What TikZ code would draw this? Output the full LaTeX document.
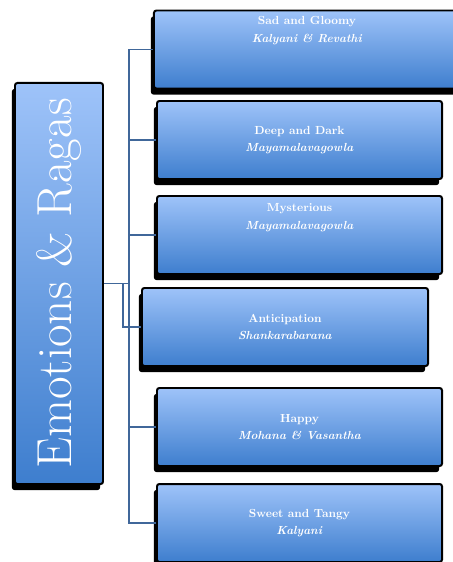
\documentclass[tikz,border=0pt]{standalone}
\usetikzlibrary{positioning, shadows}

\definecolor{skyhi}{HTML}{9EC3F9}
\definecolor{skylo}{HTML}{3E7ECE}
\definecolor{linkblue}{HTML}{40679A}

\begin{document}
\begin{tikzpicture}[
    x=0.03cm, y=-0.03cm,
    box/.style={rectangle, rounded corners=2pt, draw=black, line width=1.7pt,
                top color=skyhi, bottom color=skylo, text=white, inner sep=2pt,
                drop shadow={shadow xshift=-0.09cm, shadow yshift=-0.18cm,
                             fill=black, opacity=1}},
    mood/.style={box, minimum width=8.55cm, minimum height=2.34cm, align=center,
                 font=\fontsize{10}{15}\selectfont\bfseries},
    topic/.style={box, minimum width=2.64cm, minimum height=12.03cm,
                  font=\fontsize{42}{46}\selectfont},
    link/.style={draw=linkblue, line width=1.5pt},
  ]
    \useasboundingbox (0,0) rectangle (453,562);
    % root
    \node[topic] (root) at (59,283.5) {\rotatebox{90}{Emotions \& Ragas}};
    % emotions
    \node[mood, minimum width=9.18cm, text depth=1.2cm] (sad) at (307,49.5)
        {Sad and Gloomy\\\textit{Kalyani \& Revathi}};
    \node[mood] (deep) at (299.5,140) {Deep and Dark\\\textit{Mayamalavagowla}};
    \node[mood, text depth=1.1cm] (myst) at (299.5,235)
        {Mysterious\\\textit{Mayamalavagowla}};
    \node[mood, minimum width=8.58cm] (antic) at (285,327)
        {Anticipation\\\textit{Shankarabarana}};
    \node[mood] (happy) at (299.5,427) {Happy\\\textit{Mohana \& Vasantha}};
    \node[mood] (sweet) at (299.5,523) {Sweet and Tangy\\\textit{Kalyani}};
    % connectors
    \coordinate (trunk) at (129,0);
    \coordinate (elbow) at (123,0);
    \draw[link] (sad.west) -- (sad.west -| trunk) -- (sweet.west -| trunk) -- (sweet.west);
    \foreach \n in {deep,myst,happy} \draw[link] (\n.west) -- (\n.west -| trunk);
    \draw[link] (root.east) -- (root.east -| trunk);
    \draw[link] (root.east -| elbow) |- (antic.west);
\end{tikzpicture}
\end{document}
